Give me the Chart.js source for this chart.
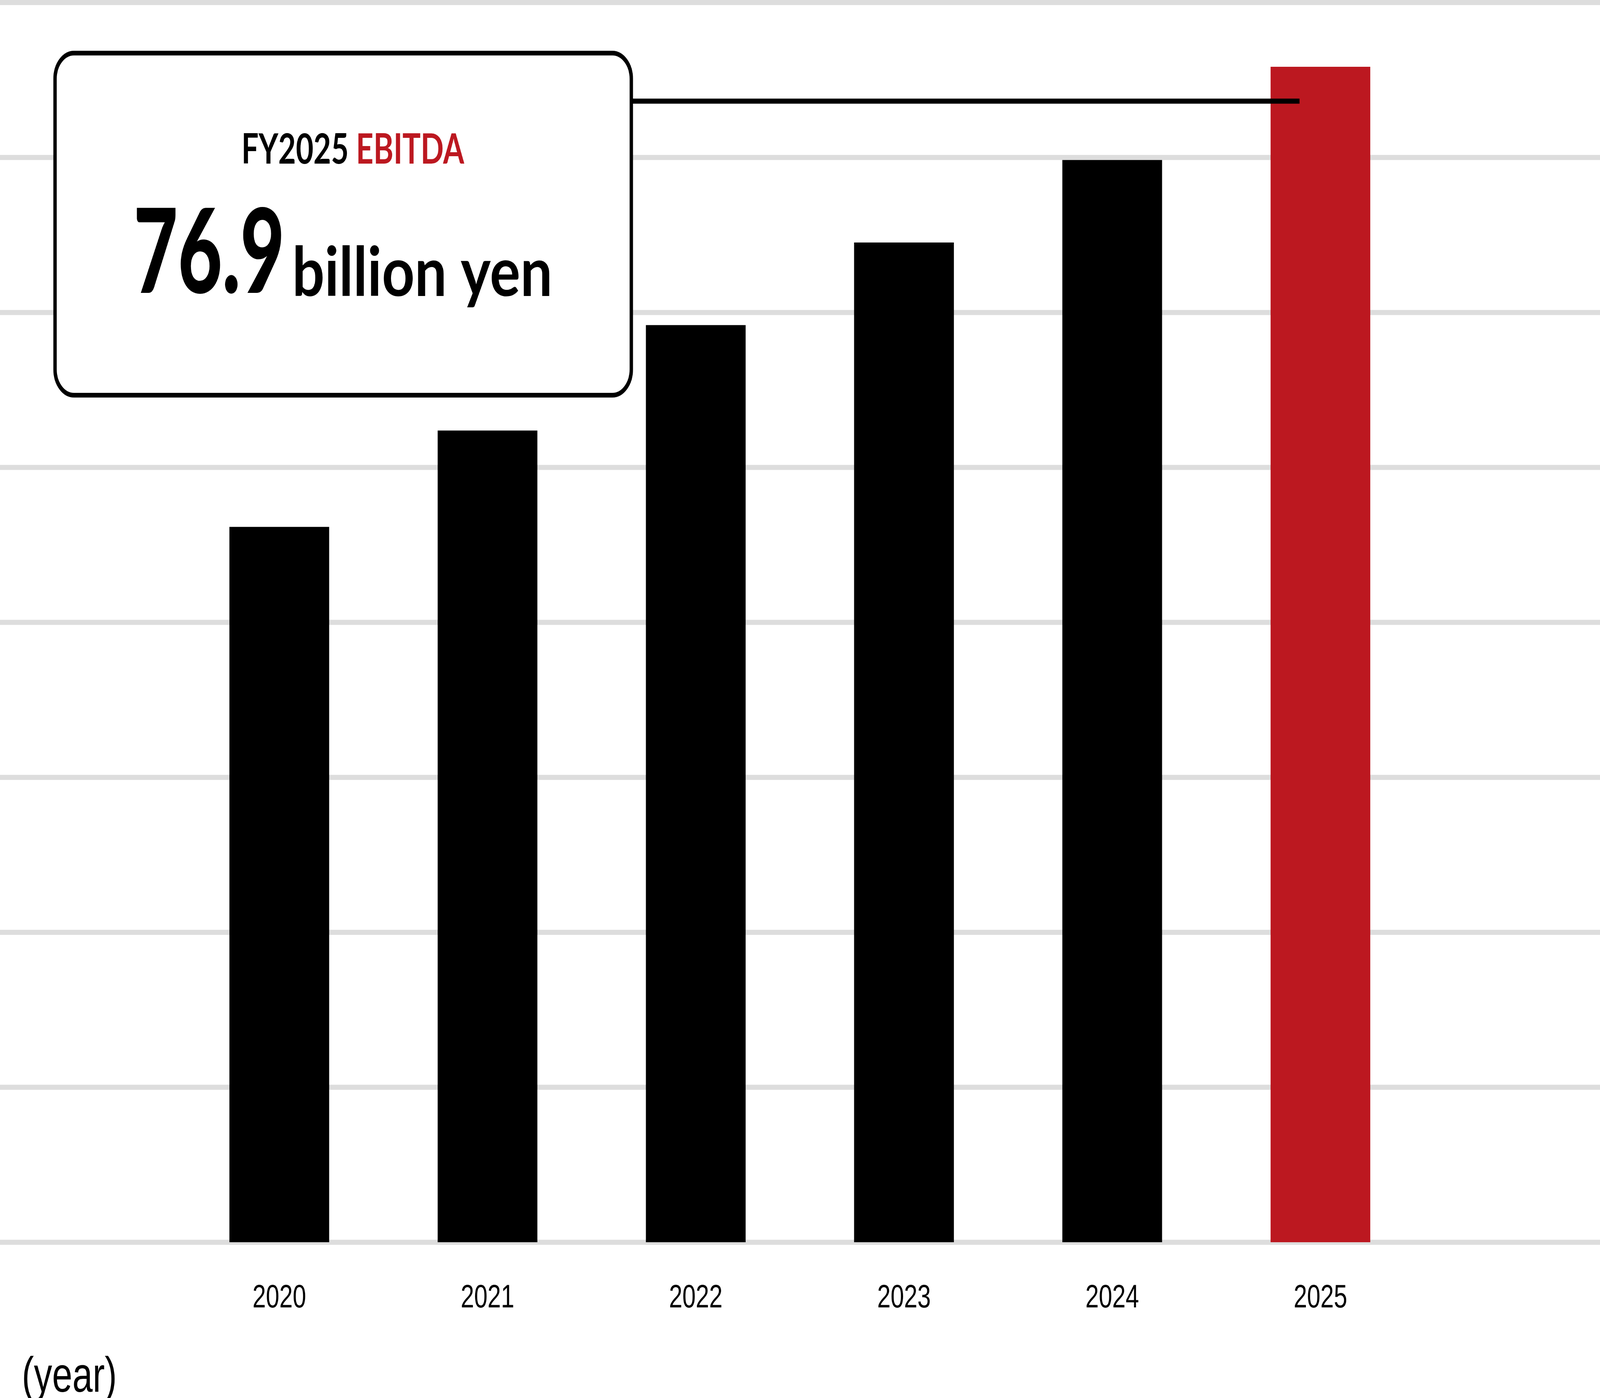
<!DOCTYPE html>
<html>
<head>
<meta charset="utf-8">
<script src="https://cdn.jsdelivr.net/npm/chart.js@4.4.1/dist/chart.umd.min.js"></script>
<style>
	html, body { margin: 0; padding: 0; background: #ffffff; overflow: hidden; }
	#myChartEbitda { display: block; }
</style>
</head>
<body>
<canvas id="myChartEbitda" width="5581" height="3580" style="width: 100vw; height: 100vh;"></canvas>
<script>
var years = ['2020', '2021', '2022', '2023', '2024', '2025'];
var ebitda = [46.8, 53.1, 60.0, 65.4, 70.8, 76.9]; // billion yen
var barColors = ['#000000', '#000000', '#000000', '#000000', '#000000', '#bc1820'];
var yMax = 81.1;
var gridCount = 8;
var calloutTitle = 'FY2025 ';
var calloutTitleRed = 'EBITDA';
var calloutValue = '76.9';
var calloutUnit = 'billion yen';
var axisNote = '(year)';

// draw text squeezed/stretched to a given width
function drawFit(ctx, text, x, y, font, width, color) {
	ctx.font = font;
	var w = ctx.measureText(text).width;
	ctx.save();
	ctx.translate(x, y);
	ctx.scale(width / w, 1);
	ctx.fillStyle = color;
	ctx.textAlign = 'left';
	ctx.textBaseline = 'alphabetic';
	ctx.fillText(text, 0, 0);
	ctx.restore();
}

// gridlines run over the whole width, behind the bars
var fullGrid = {
	id: 'fullGrid',
	beforeDatasetsDraw: function (chart) {
		var ctx = chart.ctx;
		var y = chart.scales.y;
		ctx.save();
		ctx.strokeStyle = '#dddddd';
		ctx.lineWidth = 13;
		for (var i = 0; i <= gridCount; i++) {
			var py = y.getPixelForValue(yMax * i / gridCount);
			ctx.beginPath();
			ctx.moveTo(0, py);
			ctx.lineTo(chart.width, py);
			ctx.stroke();
		}
		ctx.restore();
	}
};

var callout = {
	id: 'callout',
	afterDatasetsDraw: function (chart) {
		var ctx = chart.ctx;
		var last = chart.getDatasetMeta(0).data[years.length - 1];
		ctx.save();
		// connector line into the 2025 bar
		ctx.strokeStyle = '#000000';
		ctx.lineWidth = 13;
		ctx.beginPath();
		ctx.moveTo(2202, 259);
		ctx.lineTo(last.x - last.width * 0.21, 259);
		ctx.stroke();

		// box
		ctx.beginPath();
		ctx.roundRect(192, 136, 2010, 876, 66);
		ctx.fillStyle = '#ffffff';
		ctx.fill();
		ctx.lineWidth = 12;
		ctx.stroke();

		// title, two colours
		var titleFont = 'bold 107px Lato';
		ctx.font = titleFont;
		var full = ctx.measureText(calloutTitle + calloutTitleRed).width;
		var s = 777 / full;
		var first = ctx.measureText(calloutTitle).width * s;
		drawFit(ctx, calloutTitle, 842, 419, titleFont, first, '#000000');
		ctx.font = titleFont;
		var second = ctx.measureText(calloutTitleRed).width * s;
		drawFit(ctx, calloutTitleRed, 842 + first, 419, titleFont, second, '#bc1820');

		drawFit(ctx, calloutValue, 466, 750, '900 300px Lato', 527, '#000000');
		drawFit(ctx, calloutUnit, 1019, 758, 'bold 175px Lato', 908, '#000000');
		ctx.restore();
	},
	afterDraw: function (chart) {
		var ctx = chart.ctx;
		ctx.save();
		ctx.font = '127px "Liberation Sans"';
		ctx.fillStyle = '#000000';
		ctx.textAlign = 'left';
		ctx.textBaseline = 'alphabetic';
		ctx.fillText(axisNote, 76, 3564);
		ctx.restore();
	}
};

var ctx = document.getElementById('myChartEbitda');
var myChart = new Chart(ctx, {
	type: 'bar',
	data: {
		labels: years,
		datasets: [
			{
				label: 'EBITDA',
				data: ebitda,
				backgroundColor: barColors,
				borderWidth: 0,
				categoryPercentage: 1,
				barPercentage: 0.479,
			},
		],
	},
	options: {
		responsive: false,
		devicePixelRatio: 1,
		animation: false,
		layout: {
			padding: { left: 611, right: 612, top: 6.5, bottom: 112 },
		},
		scales: {
			x: {
				grid: { display: false, drawTicks: false },
				border: { display: false },
				ticks: {
					color: '#000000',
					padding: 93,
					font: { family: '"Liberation Sans", Arial, sans-serif', size: 84 },
				},
			},
			y: {
				display: false,
				min: 0,
				max: yMax,
			},
		},
		plugins: {
			legend: { display: false },
			tooltip: { enabled: false },
		},
	},
	plugins: [fullGrid, callout],
});
// the window may be narrower than 5581px: show the whole drawing in it
ctx.style.width = '100vw';
ctx.style.height = '100vh';
</script>
</body>
</html>
